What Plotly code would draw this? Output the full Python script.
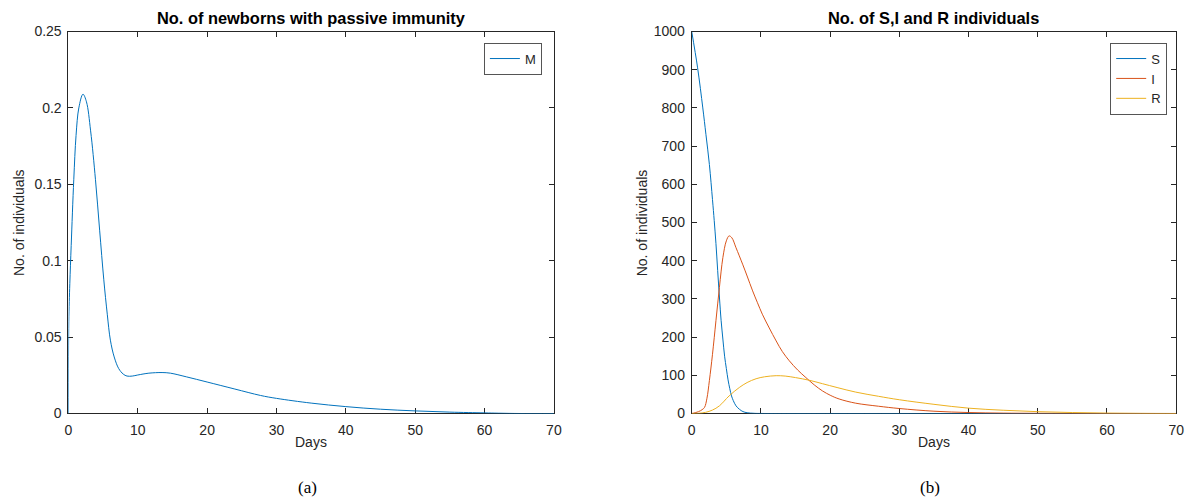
import plotly.graph_objects as go

# ---------------- data ----------------
t_M = [0, 0.05, 0.2, 0.4, 0.77, 1.1, 1.5, 2.1, 2.6, 3.2, 3.9, 4.5, 5.1, 5.6, 6.05, 6.6, 7.25,
       7.9, 8.45, 9.2, 10, 11.6, 13.5, 14.7, 17, 20, 24, 27.7, 30, 35, 40, 45, 50, 55, 60,
       62, 65, 70]
M = [0, 0.06, 0.085, 0.11, 0.153, 0.182, 0.2, 0.209, 0.204, 0.185, 0.153, 0.12, 0.0875,
     0.065, 0.048, 0.037, 0.0294, 0.0258, 0.0245, 0.0245, 0.0252, 0.0264, 0.0268, 0.0264,
     0.024, 0.0206, 0.016, 0.0118, 0.0099, 0.0068, 0.0045, 0.0028, 0.0017, 0.0009, 0.0004,
     0.0002, 0, 0]

t_S = [0, 0.85, 1.6, 2.05, 2.55, 3.0, 3.25, 3.5, 3.75, 4.0, 4.25, 4.5, 4.75, 5.0, 5.25, 5.5,
       5.75, 6.0, 6.4, 6.9, 7.4, 8.0, 9.0, 10, 20, 30, 42, 50, 60, 70]
S = [1000, 905, 800, 731, 652, 560, 505, 445, 374, 305, 243, 195, 150, 118, 88, 65, 46, 34,
     20, 11, 5, 2, 0.5, 0.1, 0, 0, 0, 0, 0, 0]

t_I = [0, 0.5, 1.0, 1.5, 1.85, 2.2, 2.55, 3.0, 3.5, 4.0, 4.5, 5.0, 5.4, 5.8, 6.4, 7.35, 8.0,
       8.8, 9.5, 10.2, 11.2, 12.2, 13.1, 14.1, 15.3, 16.5, 17.7, 18.9, 20.1, 21.3, 23.7, 27,
       30, 35, 40, 45, 50, 60, 70]
I = [0, 2, 5, 10, 16, 40, 86, 155, 243, 330, 408, 452, 465, 460, 434, 391, 360, 321, 290,
     260, 224, 190, 162, 138, 114, 94, 75, 59, 47, 38, 27, 19, 13, 6, 2.5, 1, 0.5, 0.1, 0]

t_R = [0, 1, 2, 3, 4, 5.4, 6.87, 8, 9.3, 10.5, 12.2, 13.5, 15, 17, 18.9, 21, 23.7, 27, 30,
       35, 40, 45, 50, 55, 60, 65, 70]
R = [0, 0.5, 3, 9, 20, 46, 68, 81, 91, 96, 99, 98, 94, 87, 78, 68, 56, 45, 36, 24, 14, 8.5,
     4.8, 2.5, 1, 0.3, 0]

titles = ["No. of newborns with passive immunity", "No. of S,I and R individuals"]
x_label = "Days"
y_label = "No. of individuals"
captions = ["(a)", "(b)"]

# ---------------- styling ----------------
# Measured: the photographed page maps figure pixels as
#   screen_x = 3.5 + 0.991 * fig_x,  screen_y = 8.5 + 0.966 * fig_y
# so target (reference) screen positions are converted back to figure pixels.
SX0, SXK = 3.5, 0.991
SY0, SYK = 8.5, 0.966
W, H = 1187, 506
AX = "#262626"
C1, C2, C3 = "#0072BD", "#D95319", "#EDB120"
FONT = "Liberation Sans, Arial, sans-serif"

# reference screen positions (pixels)
L1, R1 = 68, 554
L2, R2 = 692, 1177
TOP, BOT = 32, 413


def px_x(p):
    return ((p - SX0) / SXK) / W


def px_y(p):
    return 1 - ((p - SY0) / SYK) / H


fig = go.Figure()

fig.add_trace(go.Scatter(x=t_M, y=M, name="M", mode="lines",
                         line=dict(color=C1, width=1, shape="spline", smoothing=1.0),
                         xaxis="x", yaxis="y", legend="legend"))
for tt, vv, nm, col in [(t_S, S, "S", C1), (t_I, I, "I", C2), (t_R, R, "R", C3)]:
    fig.add_trace(go.Scatter(x=tt, y=vv, name=nm, mode="lines",
                             line=dict(color=col, width=1, shape="spline", smoothing=1.0),
                             xaxis="x2", yaxis="y2", legend="legend2"))

axis_common = dict(showline=True, linecolor=AX, linewidth=1, mirror="ticks",
                   ticks="inside", ticklen=5, tickcolor=AX, tickwidth=1,
                   showgrid=False, zeroline=False, layer="below traces",
                   tickfont=dict(family=FONT, size=14, color=AX))

legend_common = dict(xanchor="right", yanchor="top", bgcolor="white",
                     bordercolor="#555555", borderwidth=1,
                     font=dict(family=FONT, size=13, color=AX), tracegroupgap=0)

fig.update_layout(
    width=W, height=H, margin=dict(l=0, r=0, t=0, b=0),
    plot_bgcolor="white", paper_bgcolor="white",
    xaxis=dict(domain=[px_x(L1), px_x(R1)], range=[0, 70], dtick=10, anchor="y",
               ticklabelstandoff=4, **axis_common),
    yaxis=dict(domain=[px_y(BOT), px_y(TOP)], range=[0, 0.25], dtick=0.05, anchor="x",
               ticklabelstandoff=3, **axis_common),
    xaxis2=dict(domain=[px_x(L2), px_x(R2)], range=[0, 70], dtick=10, anchor="y2",
                ticklabelstandoff=4, **axis_common),
    yaxis2=dict(domain=[px_y(BOT), px_y(TOP)], range=[0, 1000], dtick=100, anchor="x2",
                ticklabelstandoff=3, **axis_common),
    legend=dict(x=px_x(542), y=px_y(43), **legend_common),
    legend2=dict(x=px_x(1168), y=px_y(43), **legend_common),
    showlegend=True,
)

ann = []
for i, (l, r) in enumerate([(L1, R1), (L2, R2)]):
    cx = px_x((l + r) / 2)
    ann.append(dict(text="<b>" + titles[i] + "</b>", x=cx, y=px_y(18), xref="paper",
                    yref="paper", showarrow=False, xanchor="center", yanchor="middle",
                    font=dict(family=FONT, size=16.4, color="#000000")))
    ann.append(dict(text=x_label, x=cx, y=px_y(441), xref="paper", yref="paper",
                    showarrow=False, xanchor="center", yanchor="middle",
                    font=dict(family=FONT, size=14, color=AX)))
    ann.append(dict(text=y_label, x=px_x(l - 50), y=px_y((TOP + BOT) / 2), xref="paper",
                    yref="paper", showarrow=False, xanchor="center", yanchor="middle",
                    textangle=-90, font=dict(family=FONT, size=14, color=AX)))
    ann.append(dict(text=captions[i], x=px_x((l + r) / 2 - 4), y=px_y(487), xref="paper",
                    yref="paper", showarrow=False, xanchor="center", yanchor="middle",
                    font=dict(family="Liberation Serif, Times New Roman, serif", size=17,
                              color="#000000")))
fig.update_layout(annotations=ann)

fig.write_html("out.html")
